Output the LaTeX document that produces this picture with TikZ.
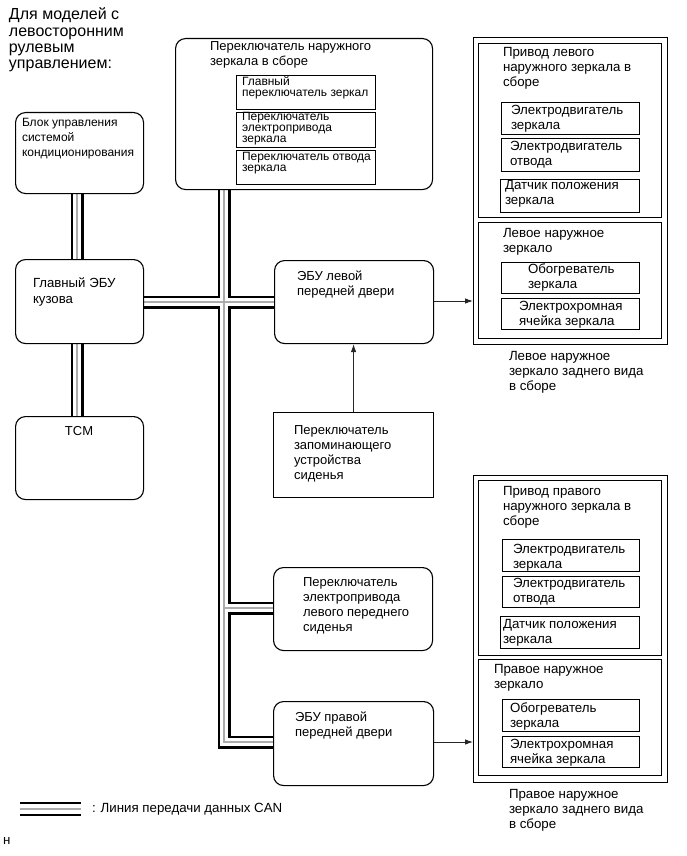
\documentclass[tikz,border=0pt]{standalone}
\usepackage{fontspec}
\setmainfont{Liberation Sans}
\usetikzlibrary{arrows.meta}
\pgfdeclarelayer{background}
\pgfsetlayers{background,main}
\newcommand\mkbox[6]{\node[#1, anchor=north west, minimum width={#5-#3}, minimum height={#6-#4}, inner sep=0pt] (#2) at (#3,#4) {};}
\newcommand\tx[5]{\node[txt, font=#2] (#1) at (#3,#4) {\vtop{#5}};}
\tikzset{
  rbox/.style={draw, line width=1.1pt, rounded corners=10pt},
  sbox/.style={draw, line width=1.1pt},
  txt/.style={anchor=base west, inner sep=0pt, outer sep=0pt},
  arr/.style={draw=black!85, line width=0.9pt, -{Latex[length=8pt,width=5.5pt]}},
  busA/.style={line width=13pt, line join=miter, black},
  busB/.style={line width=8pt, line join=miter, white},
  busC/.style={line width=2.6pt, line join=miter, gray!65},
}
\def\ft{\fontsize{13}{15}\selectfont}
\def\fm{\fontsize{13.3}{15}\selectfont}
\def\fs{\fontsize{12}{11}\selectfont}
\begin{document}
\begin{tikzpicture}[x=1pt, y=-1pt]
\useasboundingbox (0,0) rectangle (686,856);
% title
\tx{title}{\fontsize{16}{16.2}\selectfont}{9}{20}{\hbox{Для моделей с}\hbox{левосторонним}\hbox{рулевым}\hbox{управлением:}}
% left column
\mkbox{rbox}{ac}{15}{112}{143}{193}
\tx{act}{\fontsize{12}{15}\selectfont}{22}{127}{\hbox{Блок управления}\hbox{системой}\hbox{кондиционирования}}
\mkbox{rbox}{main}{15}{259}{143}{343}
\tx{maint}{\fontsize{13.2}{16}\selectfont}{33}{287}{\hbox{Главный ЭБУ}\hbox{кузова}}
\mkbox{rbox}{tcm}{15}{416}{143}{499}
\node[anchor=base, inner sep=0pt, font=\ft] (tcmt) at (79,435) {TCM};
% mirror switch
\mkbox{rbox}{sw}{175}{38}{432}{189}
\tx{swt}{\ft}{210}{51}{\hbox{Переключатель наружного}\hbox{зеркала в сборе}}
\mkbox{sbox}{swa}{236}{75}{375}{109}
\tx{swat}{\fs}{242}{86}{\hbox{Главный}\hbox{переключатель зеркал}}
\mkbox{sbox}{swb}{236}{112}{375}{147}
\tx{swbt}{\fs}{242}{121}{\hbox{Переключатель}\hbox{электропривода}\hbox{зеркала}}
\mkbox{sbox}{swc}{236}{150}{375}{184}
\tx{swct}{\fs}{242}{160}{\hbox{Переключатель отвода}\hbox{зеркала}}
% middle column
\mkbox{rbox}{ldoor}{274}{260}{433}{343}
\tx{ldoort}{\ft}{297}{280}{\hbox{ЭБУ левой}\hbox{передней двери}}
\mkbox{sbox}{mem}{273}{412}{433}{497}
\tx{memt}{\ft}{294}{434}{\hbox{Переключатель}\hbox{запоминающего}\hbox{устройства}\hbox{сиденья}}
\mkbox{rbox}{seat}{273}{567}{432}{650}
\tx{seatt}{\ft}{303}{586}{\hbox{Переключатель}\hbox{электропривода}\hbox{левого переднего}\hbox{сиденья}}
\mkbox{rbox}{rdoor}{273}{701}{433}{785}
\tx{rdoort}{\ft}{295}{721}{\hbox{ЭБУ правой}\hbox{передней двери}}
% left mirror assembly
\mkbox{sbox}{lmo}{473}{37}{667}{344}
\mkbox{sbox}{lma}{478}{43}{661}{217}
\tx{lmat}{\fm}{503}{57}{\hbox{Привод левого}\hbox{наружного зеркала в}\hbox{сборе}}
\mkbox{sbox}{lma1}{501}{102}{639}{134}
\tx{lma1t}{\fm}{511}{114}{\hbox{Электродвигатель}\hbox{зеркала}}
\mkbox{sbox}{lma2}{501}{138}{639}{171}
\tx{lma2t}{\fm}{510}{150}{\hbox{Электродвигатель}\hbox{отвода}}
\mkbox{sbox}{lma3}{500}{179}{639}{212}
\tx{lma3t}{\fm}{505}{189}{\hbox{Датчик положения}\hbox{зеркала}}
\mkbox{sbox}{lmb}{478}{222}{661}{338}
\tx{lmbt}{\fm}{503}{237}{\hbox{Левое наружное}\hbox{зеркало}}
\mkbox{sbox}{lmb1}{501}{262}{639}{293}
\tx{lmb1t}{\fm}{528}{273}{\hbox{Обогреватель}\hbox{зеркала}}
\mkbox{sbox}{lmb2}{501}{298}{639}{329}
\tx{lmb2t}{\fm}{519}{310}{\hbox{Электрохромная}\hbox{ячейка зеркала}}
\tx{lcap}{\fm}{509}{360}{\hbox{Левое наружное}\hbox{зеркало заднего вида}\hbox{в сборе}}
% right mirror assembly
\mkbox{sbox}{rmo}{473}{475}{667}{782}
\mkbox{sbox}{rma}{478}{480}{661}{655}
\tx{rmat}{\fm}{503}{495}{\hbox{Привод правого}\hbox{наружного зеркала в}\hbox{сборе}}
\mkbox{sbox}{rma1}{502}{539}{639}{571}
\tx{rma1t}{\fm}{513}{553}{\hbox{Электродвигатель}\hbox{зеркала}}
\mkbox{sbox}{rma2}{502}{576}{639}{607}
\tx{rma2t}{\fm}{513}{587}{\hbox{Электродвигатель}\hbox{отвода}}
\mkbox{sbox}{rma3}{500}{616}{639}{648}
\tx{rma3t}{\fm}{503}{628}{\hbox{Датчик положения}\hbox{зеркала}}
\mkbox{sbox}{rmb}{478}{659}{661}{775}
\tx{rmbt}{\fm}{494}{673}{\hbox{Правое наружное}\hbox{зеркало}}
\mkbox{sbox}{rmb1}{502}{699}{639}{731}
\tx{rmb1t}{\fm}{510}{712}{\hbox{Обогреватель}\hbox{зеркала}}
\mkbox{sbox}{rmb2}{502}{736}{639}{767}
\tx{rmb2t}{\fm}{510}{748}{\hbox{Электрохромная}\hbox{ячейка зеркала}}
\tx{rcap}{\fm}{509}{798}{\hbox{Правое наружное}\hbox{зеркало заднего вида}\hbox{в сборе}}
% CAN bus
\coordinate (xb) at (77,0);
\coordinate (xv) at (224,0);
\coordinate (yh) at (0,302);
\coordinate (corner) at (224,742);
\coordinate (br) at (224,608);
\def\buspath{
  (ac.south -| xb) -- (main.north -| xb)
  (main.south -| xb) -- (tcm.north -| xb)
  (main.east |- yh) -- (ldoor.west |- yh)
  (sw.south -| xv) -- (corner) -- (rdoor.west |- corner)
  (br) -- (seat.west |- br)
}
\begin{pgfonlayer}{background}
\draw[busA] \buspath;
\draw[busB] \buspath;
\draw[busC] \buspath;
\end{pgfonlayer}
% arrows
\coordinate (a1) at (0,301);
\draw[arr] (ldoor.east |- a1) -- (lmo.west |- a1);
\draw[arr] (mem.north) -- (mem.north |- ldoor.south);
\draw[arr] (rdoor.east |- corner) -- (rmo.west |- corner);
% legend
\coordinate (lg1) at (20,803);
\coordinate (lg2) at (81,803);
\draw[line width=2.6pt] (lg1) -- (lg2);
\draw[line width=2.6pt, gray!65] ([yshift=-6pt]lg1) -- ([yshift=-6pt]lg2);
\draw[line width=2.6pt] ([yshift=-12pt]lg1) -- ([yshift=-12pt]lg2);
\tx{legt}{\fm}{92}{812}{\hbox{: Линия передачи данных CAN}}
\tx{foot}{\fm}{3}{844}{\hbox{н}}
\end{tikzpicture}
\end{document}
